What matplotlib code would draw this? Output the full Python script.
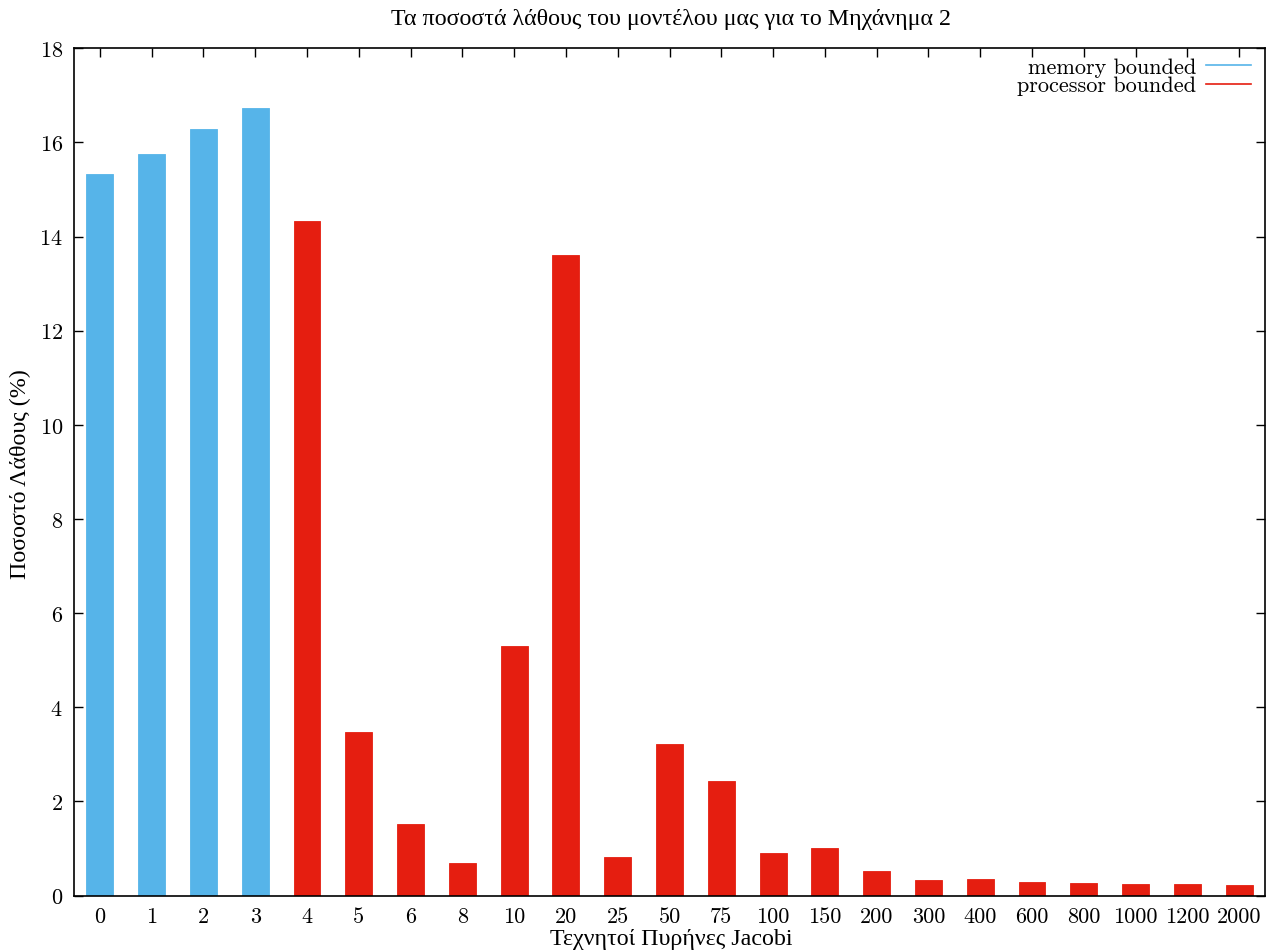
import matplotlib
matplotlib.use("Agg")
import matplotlib.pyplot as plt
from matplotlib.lines import Line2D

plt.rcParams['font.family'] = ['cmr10', 'DejaVu Serif']
plt.rcParams['axes.formatter.use_mathtext'] = True
plt.rcParams['mathtext.fontset'] = 'cm'

# Jacobi artificial cores and the model's error percentage
cores = ["0", "1", "2", "3", "4", "5", "6", "8", "10", "20", "25", "50", "75",
         "100", "150", "200", "300", "400", "600", "800", "1000", "1200", "2000"]
error_pct = [15.32, 15.75, 16.28, 16.73, 14.34, 3.48, 1.51, 0.68, 5.31, 13.60,
             0.81, 3.21, 2.44, 0.90, 1.01, 0.53, 0.33, 0.36, 0.29, 0.26, 0.24,
             0.25, 0.22]
n_memory_bounded = 4

title = "Τα ποσοστά λάθους του μοντέλου μας για το Μηχάνημα 2"
xlabel = "Τεχνητοί Πυρήνες Jacobi"
ylabel = "Ποσοστό Λάθους (%)"
series_labels = ["memory bounded", "processor bounded"]

BLUE = "#56b4e9"
RED = "#e51e10"
FS = 16
GREEK_FONT = ['Liberation Serif', 'DejaVu Serif']
GREEK_FS = 17.3

fig = plt.figure(figsize=(12.72, 9.53), dpi=100)
ax = fig.add_axes([74 / 1272, 1 - 896.5 / 953, (1265 - 74) / 1272, (896.5 - 49.3) / 953])

x = list(range(len(cores)))
colors = [BLUE if i < n_memory_bounded else RED for i in x]
ax.bar(x, error_pct, width=0.52, color=colors, edgecolor=colors, linewidth=0.6, zorder=2)

ax.set_xlim(-0.5, len(cores) - 0.5)
ax.set_ylim(0, 18)
ax.set_xticks(x)
ax.set_xticklabels(cores)
ax.set_yticks(range(0, 19, 2))

for s in ax.spines.values():
    s.set_linewidth(1.2)
ax.tick_params(axis='x', which='both', direction='in', length=6.5, width=1.0,
               bottom=False, top=True, labelsize=FS, pad=8)
ax.tick_params(axis='y', which='both', direction='in', length=6.5, width=1.0,
               left=True, right=True, labelsize=FS, pad=8)

handles = [Line2D([0], [0], color=BLUE, lw=1.2), Line2D([0], [0], color=RED, lw=1.2)]
ax.legend(handles, series_labels, loc='upper right', frameon=False, fontsize=FS,
          markerfirst=False, handlelength=2.0, handletextpad=0.45,
          labelspacing=-0.05, borderaxespad=0.3, borderpad=0.2,
          bbox_to_anchor=(1 - 3 / 1191, 1 + 2 / 847))

fig.text(671 / 1272, 1 - 20 / 953, title, ha='center', va='center',
         fontsize=GREEK_FS, family=GREEK_FONT)
fig.text(671 / 1272, 1 - 940 / 953, xlabel, ha='center', va='center',
         fontsize=GREEK_FS, family=GREEK_FONT)
fig.text(20 / 1272, 1 - 474 / 953, ylabel, ha='center', va='center', rotation=90,
         fontsize=GREEK_FS, family=GREEK_FONT)

fig.savefig("out.png", dpi=100)
